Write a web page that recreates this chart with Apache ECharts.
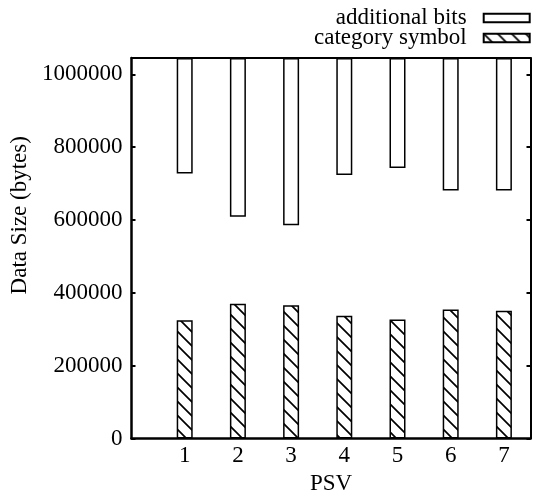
<!DOCTYPE html>
<html><head><meta charset="utf-8">
<script src="https://cdn.jsdelivr.net/npm/echarts@6/dist/echarts.min.js"></script>
<style>html,body{margin:0;padding:0;background:#fff}#c{width:536px;height:495px}</style>
</head><body><div id="c"></div>
<script>
// ---- data ----
const psv = [1, 2, 3, 4, 5, 6, 7];
const categorySymbol = [325000, 370000, 366000, 337000, 327000, 354000, 351000];
const additionalBitsStart = [728000, 609000, 586000, 724000, 743000, 681000, 681000];
const seriesNames = ['additional bits', 'category symbol'];
const X_MAX = 7.5;
const Y_MAX = 1045000;
const Y_INTERVAL = 200000;

const FONT = "'Liberation Serif', 'Times New Roman', serif";
const FS = 23;

// half-step slots spanning the x range 0..7.5 (hidden category axis used for bar placement)
const slots = [];
for (let v = 0; v <= X_MAX + 1e-9; v += 0.5) slots.push(v);
const slotData = (fn) => slots.map((s) => {
  const i = psv.indexOf(s);
  return i >= 0 ? fn(i) : null;
});

function hatchPattern() {
  const s = 14;
  const c = document.createElement('canvas');
  c.width = s; c.height = s;
  const g = c.getContext('2d');
  g.fillStyle = '#fff';
  g.fillRect(0, 0, s, s);
  g.strokeStyle = '#000';
  g.lineWidth = 1.7;
  g.beginPath();
  g.moveTo(-2, -2); g.lineTo(s + 2, s + 2);
  g.moveTo(-2, s - 2); g.lineTo(2, s + 2);
  g.moveTo(s - 2, -2); g.lineTo(s + 2, 2);
  g.stroke();
  return { image: c, repeat: 'repeat' };
}

const chart = echarts.init(document.getElementById('c'), null, { renderer: 'canvas' });
chart.setOption({
  animation: false,
  backgroundColor: '#fff',
  textStyle: { fontFamily: FONT, color: '#000' },
  grid: { left: 131.5, right: 5.5, top: 58, bottom: 56.5, containLabel: false, outerBoundsMode: 'none' },
  legend: {
    data: seriesNames,
    orient: 'vertical',
    right: 5.3,
    top: 6.5,
    padding: 0,
    align: 'right',
    itemWidth: 46,
    itemHeight: 8.5,
    itemGap: -3,
    icon: 'rect',
    selectedMode: false,
    textStyle: { fontFamily: FONT, fontSize: FS, color: '#000', lineHeight: 20.5, padding: [0, 12, 0, 0] }
  },
  xAxis: [{
    type: 'category', data: slots, boundaryGap: false, position: 'bottom',
    show: false
  }, {
    type: 'value', min: 0, max: X_MAX, interval: 1, position: 'bottom',
    name: 'PSV', nameLocation: 'middle', nameGap: 26.5,
    nameTextStyle: { fontFamily: FONT, fontSize: FS, color: '#000' },
    axisLine: { show: true, onZero: false, lineStyle: { color: '#000', width: 2.5 } },
    axisTick: { show: false },
    splitLine: { show: false },
    axisLabel: {
      fontFamily: FONT, fontSize: FS, color: '#000', margin: 6,
      formatter: (v) => (psv.indexOf(v) >= 0) ? String(v) : ''
    }
  }, {
    type: 'value', min: 0, max: X_MAX, interval: 1, position: 'top',
    axisLine: { show: true, onZero: false, lineStyle: { color: '#000', width: 2 } },
    axisTick: { show: false }, axisLabel: { show: false }, splitLine: { show: false }
  }],
  yAxis: [{
    type: 'value', min: 0, max: Y_MAX, interval: Y_INTERVAL, position: 'left',
    name: 'Data Size (bytes)', nameLocation: 'middle', nameGap: 89, nameRotate: 90,
    nameTextStyle: { fontFamily: FONT, fontSize: FS, color: '#000', padding: [0, 0, 0, 66] },
    axisLine: { show: true, onZero: false, lineStyle: { color: '#000', width: 2.5 } },
    axisTick: { show: true, inside: true, length: 4, lineStyle: { color: '#000', width: 2 } },
    splitLine: { show: false },
    axisLabel: {
      fontFamily: FONT, fontSize: FS, color: '#000', margin: 9, showMaxLabel: false,
      formatter: (v) => (v % Y_INTERVAL === 0) ? String(v) : ''
    }
  }, {
    type: 'value', min: 0, max: Y_MAX, interval: Y_INTERVAL, position: 'right',
    axisLine: { show: true, onZero: false, lineStyle: { color: '#000', width: 2 } },
    axisTick: { show: true, inside: true, length: 4, lineStyle: { color: '#000', width: 2 } },
    axisLabel: { show: false }, splitLine: { show: false }
  }],
  series: [{
    name: 'category symbol', type: 'bar', stack: 's', barWidth: 16,
    xAxisIndex: 0, yAxisIndex: 0,
    itemStyle: { color: hatchPattern(), borderColor: '#000', borderWidth: 1.5 },
    data: slotData((i) => categorySymbol[i])
  }, {
    name: 'gap', type: 'bar', stack: 's', barWidth: 16,
    xAxisIndex: 0, yAxisIndex: 0,
    itemStyle: { color: 'rgba(0,0,0,0)', borderWidth: 0 },
    data: slotData((i) => additionalBitsStart[i] - categorySymbol[i])
  }, {
    name: 'additional bits', type: 'bar', stack: 's', barWidth: 16,
    xAxisIndex: 0, yAxisIndex: 0,
    itemStyle: { color: '#fff', borderColor: '#000', borderWidth: 1.5 },
    data: slotData((i) => Y_MAX - additionalBitsStart[i])
  }]
});
</script>
</body></html>
